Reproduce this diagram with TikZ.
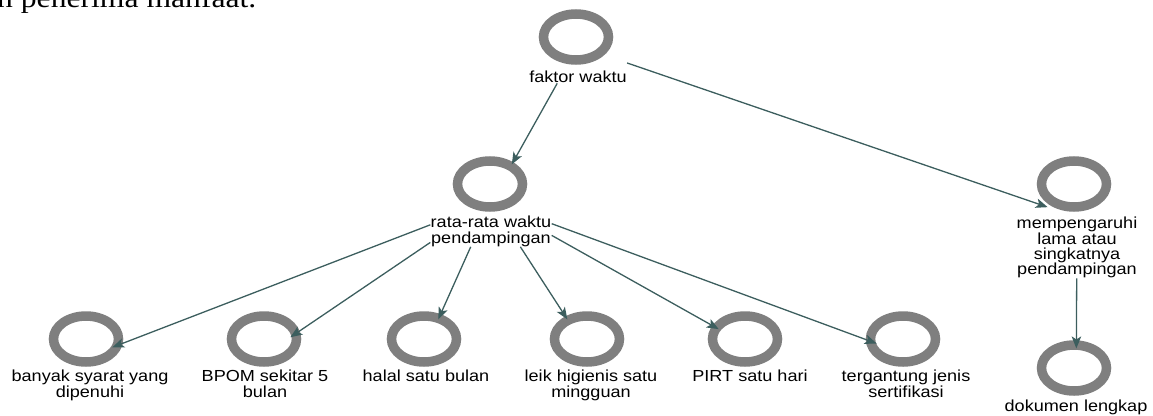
\documentclass[tikz,border=0pt]{standalone}
\usepackage{fontspec}
\setmainfont{Liberation Sans}
\newfontfamily\lblfont[FakeStretch=1.13]{Liberation Sans}
\newfontfamily\serfont[FakeStretch=1.13]{Liberation Serif}
\usetikzlibrary{arrows.meta,shapes.geometric,fit}
\definecolor{ringgray}{HTML}{7F7F7F}
\definecolor{edgecol}{HTML}{3C5E5E}
% connector from group node #1 towards group node #2, ending on side #3--#4 of the ring box of #2
\newcommand\conn[4]{%
  \draw[edge] (#1) -- (intersection of #1.center--#2.center and #2c.#3--#2c.#4);
}
\begin{document}
\begin{tikzpicture}[x=1pt,y=-1pt,
  ring/.style={ellipse, draw=ringgray, line width=9.5pt, fill=white, minimum width=65pt, minimum height=46pt, inner sep=0pt},
  lbl/.style={font=\lblfont\fontsize{16}{15.3}\selectfont, align=center, inner sep=0pt, anchor=north, text=black},
  edge/.style={draw=edgecol, line width=1.3pt, -{Stealth[length=12pt,width=9.5pt,inset=3pt]}},
  grp/.style={inner sep=0pt, draw=none}]
\useasboundingbox (0,0) rectangle (1153,415);
\clip (0,0) rectangle (1153,415);
\node[font=\serfont\fontsize{28}{30}\selectfont, anchor=base west, inner sep=0pt] (top) at (-3,8) {n penerima manfaat.};

\node[ring] (Ac) at (576,37) {};
\node[lbl] (Al) at (578,71) {faktor waktu};
\node[grp, fit=(Ac)(Al)] (A) {};

\node[ring] (Bc) at (490,184) {};
\node[lbl] (Bl) at (491,216) {rata-rata waktu\\pendampingan};
\node[grp, fit=(Bc)(Bl)] (B) {};

\node[ring] (Cc) at (1074,184) {};
\node[lbl] (Cl) at (1077,217) {mempengaruhi\\lama atau\\singkatnya\\pendampingan};
\node[grp, fit=(Cc)(Cl)] (C) {};

\node[ring] (Dc) at (1074,368) {};
\node[lbl] (Dl) at (1076,400) {dokumen lengkap};
\node[grp, fit=(Dc)(Dl)] (D) {};

\node[ring] (Ec) at (86,339) {};
\node[lbl] (El) at (90,370) {banyak syarat yang\\dipenuhi};
\node[grp, fit=(Ec)(El)] (E) {};

\node[ring] (Fc) at (264,339) {};
\node[lbl] (Fl) at (265,370) {BPOM sekitar 5\\bulan};
\node[grp, fit=(Fc)(Fl)] (F) {};

\node[ring] (Gc) at (424,339) {};
\node[lbl] (Gl) at (426,370) {halal satu bulan};
\node[grp, fit=(Gc)(Gl)] (G) {};

\node[ring] (Hc) at (587,339) {};
\node[lbl] (Hl) at (591,370) {leik higienis satu\\mingguan};
\node[grp, fit=(Hc)(Hl)] (H) {};

\node[ring] (Ic) at (745,339) {};
\node[lbl] (Il) at (750,370) {PIRT satu hari};
\node[grp, fit=(Ic)(Il)] (I) {};

\node[ring] (Jc) at (903,339) {};
\node[lbl] (Jl) at (906,370) {tergantung jenis\\sertifikasi};
\node[grp, fit=(Jc)(Jl)] (J) {};

\conn{A}{B}{north west}{north east}
\conn{A}{C}{south west}{north west}
\conn{B}{E}{south east}{north east}
\conn{B}{F}{south east}{north east}
\conn{B}{G}{north west}{north east}
\conn{B}{H}{north west}{north east}
\conn{B}{I}{south west}{north west}
\conn{B}{J}{south west}{north west}
\conn{C}{D}{north west}{north east}
\end{tikzpicture}
\end{document}
